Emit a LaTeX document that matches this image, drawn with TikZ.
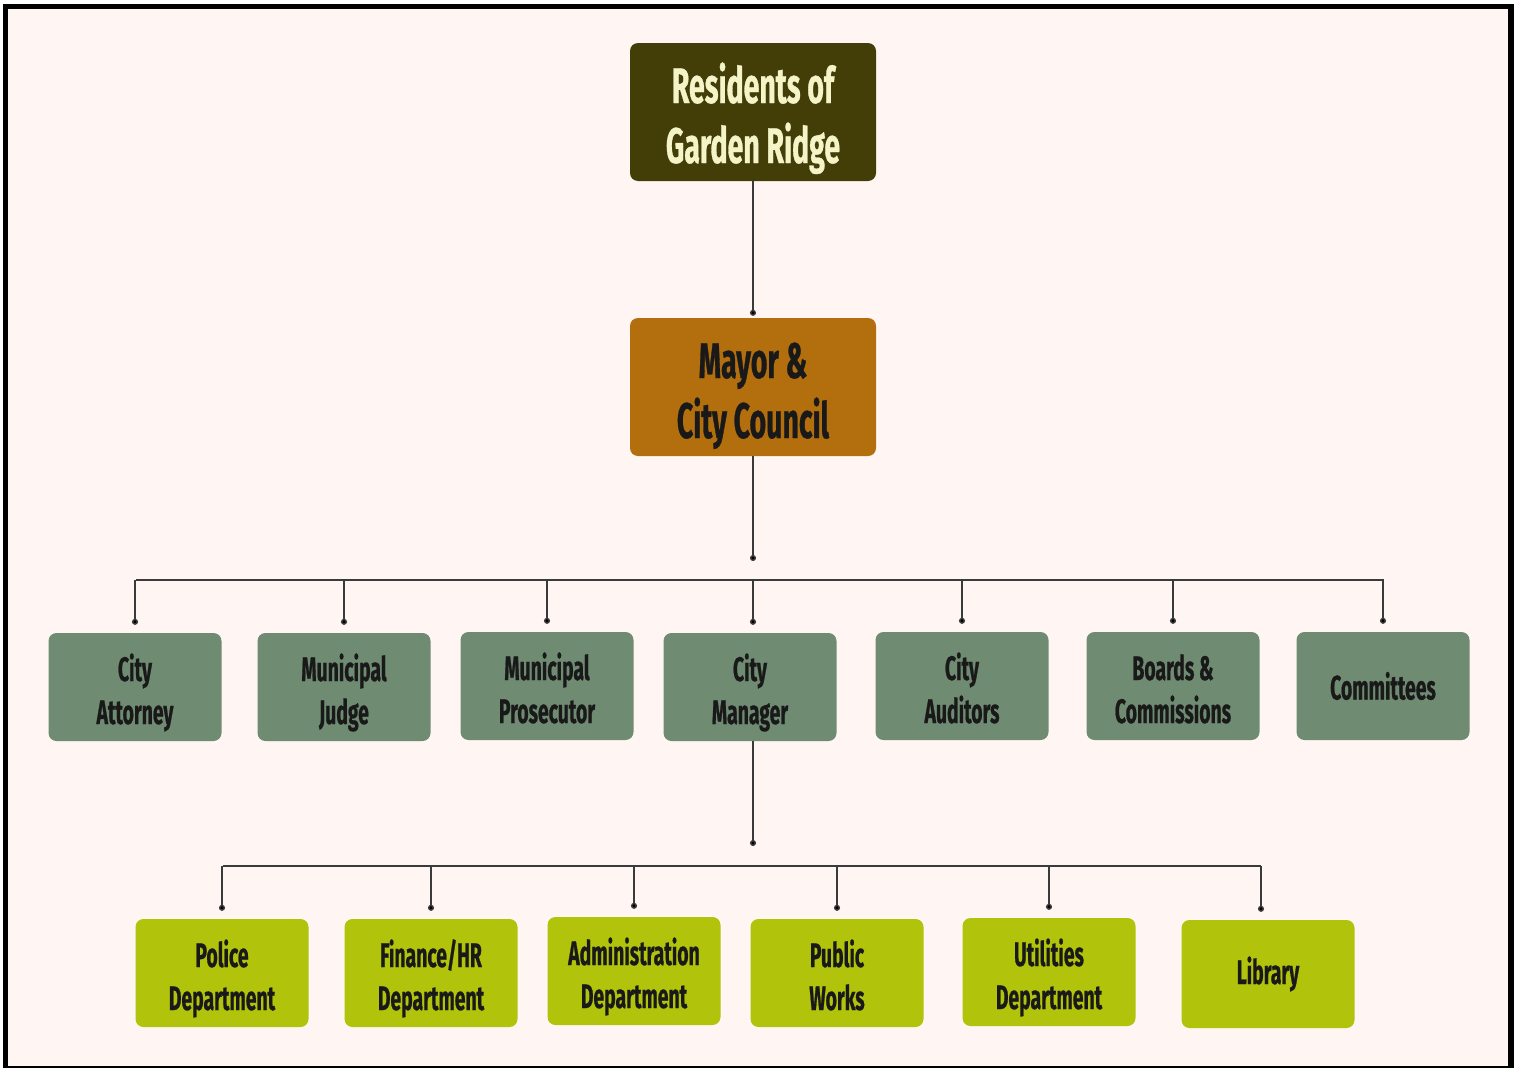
\documentclass[tikz,border=0pt]{standalone}
\usepackage{fontspec}
\setmainfont{Fira Sans}[FakeStretch=0.57, FakeBold=0.6]
\usetikzlibrary{arrows.meta}
\definecolor{bgpink}{HTML}{FFF5F3}
\definecolor{toptone}{HTML}{433D08}
\definecolor{mayortone}{HTML}{B36F0D}
\definecolor{midtone}{HTML}{6F8C72}
\definecolor{lowtone}{HTML}{B1C30A}
\definecolor{cream}{HTML}{F4F4C8}
\definecolor{linkgray}{HTML}{3A3A3A}
\tikzset{
  boxbase/.style={rounded corners=8pt, align=center, inner sep=0pt, font=\bfseries\fontsize{34}{43}\selectfont, text=black!90},
  twoline/.style={text height=74pt, text depth=0pt},
  bigbox/.style={boxbase, minimum width=246pt, minimum height=138pt, font=\bfseries\fontsize{50}{60}\selectfont, text height=102pt, text depth=0pt},
  topbox/.style={bigbox, fill=toptone, text=cream},
  mayorbox/.style={bigbox, fill=mayortone, text=black!90},
  midbox/.style={boxbase, fill=midtone, minimum width=173pt, minimum height=108pt},
  lowbox/.style={boxbase, fill=lowtone, minimum width=173pt, minimum height=108pt},
  link/.style={draw=linkgray, line width=1.4pt, -{Circle[length=6pt, fill=black]}},
  barline/.style={draw=linkgray, line width=1.4pt},
}
\begin{document}
\begin{tikzpicture}[x=1pt,y=-1pt]
\fill[white] (0,0) rectangle (1519,1068);
\fill[black] (3,4) rectangle (1514,1068);
\fill[bgpink] (8,9) rectangle (1508,1066);
\useasboundingbox (0,0) rectangle (1519,1068);

\node[topbox] (res) at (753,112) {Residents of\\Garden Ridge};
\node[mayorbox] (mayor) at (753,387) {Mayor \&\\City Council};

\node[midbox, twoline] (att) at (135,687) {City\\Attorney};
\node[midbox, twoline] (judge) at (344,687) {Municipal\\Judge};
\node[midbox, twoline] (pros) at (547,686) {Municipal\\Prosecutor};
\node[midbox, twoline] (mgr) at (750,687) {City\\Manager};
\node[midbox, twoline] (aud) at (962,686) {City\\Auditors};
\node[midbox, twoline] (boards) at (1173,686) {Boards \&\\Commissions};
\node[midbox] (comm) at (1383,686) {Committees};

\node[lowbox, twoline] (police) at (222,973) {Police\\Department};
\node[lowbox, twoline] (fin) at (431,973) {Finance/HR\\Department};
\node[lowbox, twoline] (admin) at (634,971) {Administration\\Department};
\node[lowbox, twoline] (pw) at (837,973) {Public\\Works};
\node[lowbox, twoline] (util) at (1049,972) {Utilities\\Department};
\node[lowbox] (lib) at (1268,974) {Library};

\coordinate (mdot) at (753,561);
\coordinate (bar1L) at (136,580);
\coordinate (bar1R) at (1384,580);
\coordinate (ldot) at (753,846);
\coordinate (bar2L) at (223,866);
\coordinate (bar2R) at (1261,866);

\draw[link, shorten >=2pt] (res.south) -- (mayor.north);
\draw[link] (mayor.south) -- (mdot);
\draw[link] (mgr.south -| mdot) -- (ldot);
\draw[barline] (bar1L) -- (bar1R);
\draw[barline] (bar2L) -- (bar2R);
\foreach \n in {att,judge,pros,aud,boards,comm}
  \draw[link, shorten >=8pt] (bar1L -| \n.north) -- (\n.north);
\draw[link, shorten >=8pt] (bar1L -| mdot) -- (mdot |- mgr.north);
\foreach \n in {police,fin,admin,pw,util}
  \draw[link, shorten >=8pt] (bar2L -| \n.north) -- (\n.north);
\draw[link, shorten >=8pt] (bar2R) -- (bar2R |- lib.north);
\end{tikzpicture}
\end{document}
